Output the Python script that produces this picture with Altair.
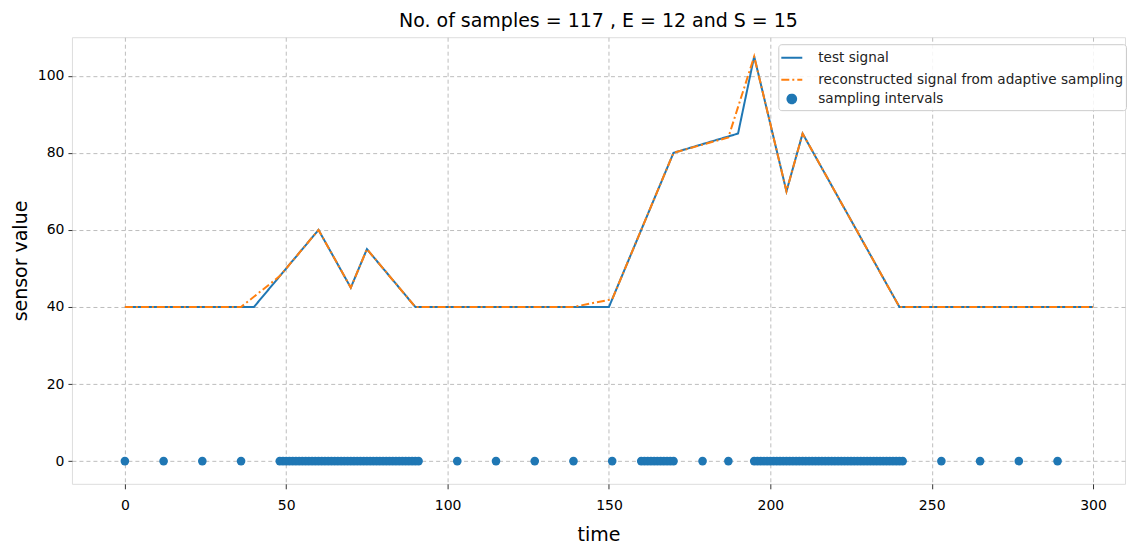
import altair as alt
import pandas as pd

# ---- data ----
test_time = [0, 40, 60, 70, 75, 90, 150, 170, 190, 195, 205, 210, 240, 300]
test_value = [40, 40, 60, 45, 55, 40, 40, 80, 85, 105, 70, 85, 40, 40]

recon_time = [0, 36, 48, 60, 70, 75, 90, 139, 151, 160, 170, 187, 195, 205, 210, 240, 300]
recon_value = [40, 40, 48, 60, 45, 55, 40, 40, 42, 60, 80, 84, 105, 70, 85, 40, 40]

sample_times = [
    0, 12, 24, 36,
    48, 49, 50, 51, 52, 53, 54, 55, 56, 57, 58, 59, 60, 61, 62, 63, 64, 65,
    66, 67, 68, 69, 70, 71, 72, 73, 74, 75, 76, 77, 78, 79, 80, 81, 82, 83,
    84, 85, 86, 87, 88, 89, 90, 91,
    103, 115, 127, 139, 151,
    160, 161, 162, 163, 164, 165, 166, 167, 168, 169, 170,
    179, 187,
    195, 196, 197, 198, 199, 200, 201, 202, 203, 204, 205, 206, 207, 208,
    209, 210, 211, 212, 213, 214, 215, 216, 217, 218, 219, 220, 221, 222,
    223, 224, 225, 226, 227, 228, 229, 230, 231, 232, 233, 234, 235, 236,
    237, 238, 239, 240, 241,
    253, 265, 277, 289,
]
sample_value = [0] * len(sample_times)

series_names = ["test signal", "reconstructed signal from adaptive sampling", "sampling intervals"]
x_ticks = [0, 50, 100, 150, 200, 250, 300]
y_ticks = [0, 20, 40, 60, 80, 100]

BLUE = "#1f77b4"
ORANGE = "#ff7f0e"
FONT = "DejaVu Sans"

lines_df = pd.concat([
    pd.DataFrame({"time": test_time, "value": test_value, "series": series_names[0], "order": 0}),
    pd.DataFrame({"time": recon_time, "value": recon_value, "series": series_names[1], "order": 1}),
])
points_df = pd.DataFrame({"time": sample_times, "value": sample_value, "series": series_names[2]})

x_scale = alt.Scale(domain=[-16.4, 309.9], nice=False, zero=False)
y_scale = alt.Scale(domain=[-5.9, 110.0], nice=False, zero=False)

color_scale = alt.Scale(domain=series_names, range=[BLUE, ORANGE, BLUE])
dash_scale = alt.Scale(domain=series_names, range=[[1, 0], [8, 3, 2, 3], [1, 0]])
shape_scale = alt.Scale(domain=series_names, range=["stroke", "stroke", "circle"])
size_scale = alt.Scale(type="ordinal", domain=series_names, range=[441, 441, 75])

legend = alt.Legend(
    title=None,
    orient="none",
    legendX=707,
    legendY=7,
    labelFont=FONT,
    labelFontSize=13.6,
    labelColor="#222",
    labelOffset=15,
    symbolStrokeWidth=2,
    rowPadding=3,
    padding=2,
    strokeColor="#cccccc",
    fillColor="rgba(255,255,255,0.85)",
    cornerRadius=3,
    labelLimit=400,
)

x_axis = alt.Axis(
    values=x_ticks, title="time", titleFont=FONT, titleFontSize=19, titleFontWeight="normal",
    titleColor="#000", titlePadding=13, labelFont=FONT, labelFontSize=14, labelColor="#000",
    labelPadding=10, tickSize=5, tickColor="#333", domain=False,
    grid=True, gridDash=[4, 3], gridColor="#bdbdbd", gridWidth=1,
)
y_axis = alt.Axis(
    values=y_ticks, title="sensor value", titleFont=FONT, titleFontSize=19, titleFontWeight="normal",
    titleColor="#000", titlePadding=7, labelFont=FONT, labelFontSize=14, labelColor="#000",
    labelPadding=4, tickSize=4, tickColor="#333", domain=False,
    grid=True, gridDash=[4, 3], gridColor="#bdbdbd", gridWidth=1,
)

lines = alt.Chart(lines_df).mark_line(strokeWidth=2).encode(
    x=alt.X("time:Q", scale=x_scale, axis=x_axis),
    y=alt.Y("value:Q", scale=y_scale, axis=y_axis),
    stroke=alt.Stroke("series:N", scale=color_scale, legend=legend),
    strokeDash=alt.StrokeDash("series:N", scale=dash_scale, legend=legend),
    detail="series:N",
    order="order:Q",
)

points = alt.Chart(points_df).mark_point(filled=True, opacity=1).encode(
    x=alt.X("time:Q", scale=x_scale, axis=x_axis),
    y=alt.Y("value:Q", scale=y_scale, axis=y_axis),
    fill=alt.Fill("series:N", scale=color_scale, legend=legend),
    shape=alt.Shape("series:N", scale=shape_scale, legend=legend),
    size=alt.Size("series:N", scale=size_scale, legend=legend),
)

chart = alt.layer(lines, points).properties(
    width=1054,
    height=447,
    padding={"left": 3, "top": 4, "right": 0, "bottom": 0},
    title=alt.TitleParams(
        "No. of samples = 117 , E = 12 and S = 15",
        font=FONT, fontSize=19, fontWeight="normal", color="#000", offset=6,
    ),
).configure_view(
    stroke="#333", strokeWidth=1,
).configure(background="white")

chart.save("out.html", embed_options={"renderer": "svg", "actions": False})
